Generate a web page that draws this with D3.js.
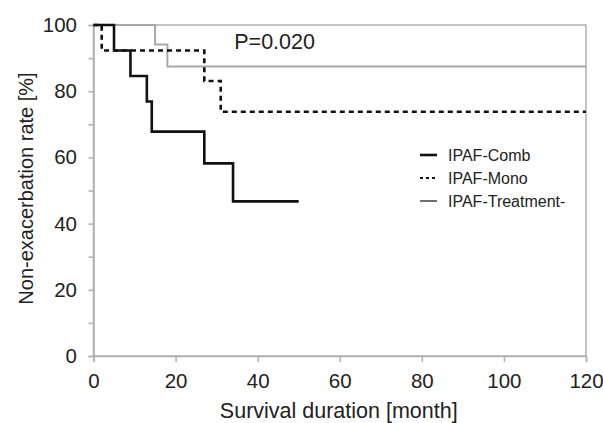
<!DOCTYPE html>
<html>
<head>
<meta charset="utf-8">
<script src="https://cdn.jsdelivr.net/npm/d3@7"></script>
<style>
  body { margin: 0; background: #fff; }
  #chart-container { width: 603px; height: 423px; }
  text { font-family: "Liberation Sans", Arial, sans-serif; fill: #222; }
</style>
</head>
<body>
<div id="chart-container"></div>
<script>
const chartContainer = document.getElementById("chart-container");

// step points [month, rate %]
const combSteps = [[0, 100], [5, 92.3], [9, 84.6], [13, 76.9], [14.2, 67.8], [27, 58.2], [34, 46.7], [50, 46.7]];
const monoSteps = [[0, 100], [2, 92.3], [27, 83.1], [31, 73.8], [120, 73.8]];
const treatSteps = [[0, 100], [15, 94.1], [18, 87.5], [120, 87.5]];

const seriesNames = ["IPAF-Comb", "IPAF-Mono", "IPAF-Treatment-"];
const xTicks = [0, 20, 40, 60, 80, 100, 120];
const yTicks = [0, 10, 20, 30, 40, 50, 60, 70, 80, 90, 100];
const pLabel = "P=0.020";

const width = 603;
const height = 423;
const margin = { top: 25, right: 17, bottom: 67, left: 93.5 };
const graphWidth = width - margin.left - margin.right;
const graphHeight = height - margin.top - margin.bottom;

const svg = d3
  .select(chartContainer)
  .append("svg")
  .attr("width", width)
  .attr("height", height);

const graph = svg
  .append("g")
  .attr("transform", `translate(${margin.left}, ${margin.top})`);

const x = d3.scaleLinear().domain([0, 120]).range([0, graphWidth]);
const y = d3.scaleLinear().domain([0, 100]).range([graphHeight, 0]);

// frame
graph
  .append("rect")
  .attr("width", graphWidth)
  .attr("height", graphHeight)
  .attr("fill", "none")
  .attr("stroke", "#b0b0b0")
  .attr("stroke-width", 1.5);

const xAxis = d3.axisBottom(x).tickValues(xTicks).tickSize(6).tickPadding(11);
const yAxis = d3
  .axisLeft(y)
  .tickValues(yTicks)
  .tickSize(5)
  .tickPadding(11.5)
  .tickFormat((d) => (d % 20 === 0 ? d : ""));

const gXAxis = graph.append("g").attr("transform", `translate(0, ${graphHeight})`).call(xAxis);
const gYAxis = graph.append("g").call(yAxis);

[gXAxis, gYAxis].forEach((g) => {
  g.select(".domain").attr("stroke", "#b0b0b0").attr("stroke-width", 1.5);
  g.selectAll(".tick line").attr("stroke", "#b0b0b0").attr("stroke-width", 1.5);
  g.selectAll("text").style("font-size", "20.5px").attr("fill", "#222").attr("font-family", "Liberation Sans, Arial, sans-serif");
});

const line = d3
  .line()
  .x((d) => x(d[0]))
  .y((d) => y(d[1]))
  .curve(d3.curveStepAfter);

graph
  .append("path")
  .datum(treatSteps)
  .attr("d", line)
  .attr("fill", "none")
  .attr("stroke", "#a8a8a8")
  .attr("stroke-width", 2);

graph
  .append("path")
  .datum(monoSteps)
  .attr("d", line)
  .attr("fill", "none")
  .attr("stroke", "#111")
  .attr("stroke-width", 2.6)
  .attr("stroke-dasharray", "5,4");

graph
  .append("path")
  .datum(combSteps)
  .attr("d", line)
  .attr("fill", "none")
  .attr("stroke", "#111")
  .attr("stroke-width", 2.6);

graph
  .append("text")
  .attr("x", x(34.3))
  .attr("y", y(92.8))
  .style("font-size", "21.5px")
  .text(pLabel);

// legend
const legendStyles = [
  { w: 2.6, dash: null },
  { w: 1.8, dash: "3,3" },
  { w: 1.2, dash: null },
];
const legend = svg.append("g").attr("transform", "translate(420, 155)");
seriesNames.forEach((name, i) => {
  const row = legend.append("g").attr("transform", `translate(0, ${i * 23})`);
  row
    .append("line")
    .attr("x1", 0)
    .attr("x2", 17)
    .attr("y1", 0)
    .attr("y2", 0)
    .attr("stroke", "#111")
    .attr("stroke-width", legendStyles[i].w)
    .attr("stroke-dasharray", legendStyles[i].dash);
  row
    .append("text")
    .attr("x", 28)
    .attr("y", 0)
    .attr("dy", "0.35em")
    .style("font-size", "16px")
    .text(name);
});

svg
  .append("text")
  .attr("x", margin.left + graphWidth / 2 - 1)
  .attr("y", 418)
  .attr("text-anchor", "middle")
  .style("font-size", "21.5px")
  .text("Survival duration [month]");

svg
  .append("text")
  .attr("transform", `translate(33, 188.5) rotate(-90)`)
  .attr("text-anchor", "middle")
  .style("font-size", "20px")
  .text("Non-exacerbation rate [%]");
</script>
</body>
</html>
